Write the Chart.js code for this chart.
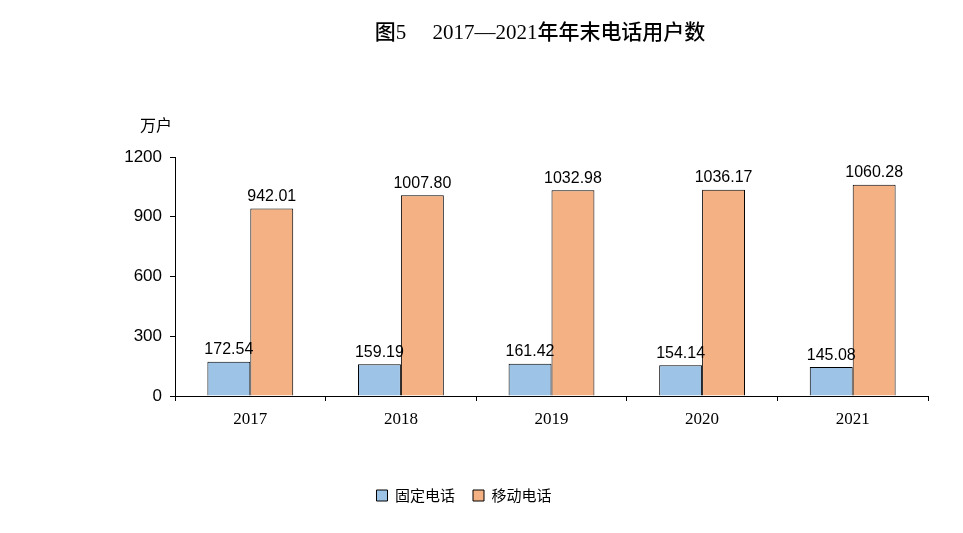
<!DOCTYPE html>
<html><head><meta charset="utf-8">
<script src="https://cdn.jsdelivr.net/npm/chart.js@4"></script>
<style>html,body{margin:0;padding:0;background:#fff}#wrap{width:963px;height:533px}</style>
</head><body><div id="wrap"><canvas id="myChart"></canvas></div>
<script>
const years = ['2017', '2018', '2019', '2020', '2021'];
const fixedPhone = [172.54, 159.19, 161.42, 154.14, 145.08];
const mobilePhone = [942.01, 1007.80, 1032.98, 1036.17, 1060.28];
const yTicks = [0, 300, 600, 900, 1200];

const sans = '"Liberation Sans", Arial, sans-serif';
const serif = '"Liberation Serif", "Times New Roman", serif';

const extras = {
    id: 'extras',
    afterDraw(chart) {
        const c = chart.ctx;
        c.save();
        c.fillStyle = '#000';
        c.textAlign = 'center';
        c.textBaseline = 'middle';
        c.font = '500 21px ' + serif.replace('serif', '"Noto Sans CJK SC", serif');
        c.fillText('图5\u3000 2017—2021年年末电话用户数', 540, 33);
        c.font = '16px "Noto Sans CJK SC", sans-serif';
        c.fillText('万户', 156, 125);
        c.font = '16px ' + sans;
        c.textBaseline = 'bottom';
        chart.data.datasets.forEach((ds, i) => {
            chart.getDatasetMeta(i).data.forEach((bar, j) => {
                c.fillText(ds.data[j].toFixed(2), bar.x, bar.y - 4);
            });
        });
        c.restore();
    }
};

new Chart(document.getElementById('myChart'), {
    type: 'bar',
    data: {
        labels: years,
        datasets: [
            { label: '固定电话', data: fixedPhone, backgroundColor: '#9dc3e6', borderColor: '#000', borderWidth: 1 },
            { label: '移动电话', data: mobilePhone, backgroundColor: '#f4b183', borderColor: '#000', borderWidth: 1 }
        ]
    },
    options: {
        responsive: true,
        maintainAspectRatio: false,
        animation: false,
        layout: { padding: { top: 157, right: 35, bottom: 20, left: 0 } },
        datasets: { bar: { categoryPercentage: 0.57, barPercentage: 1 } },
        plugins: {
            legend: {
                position: 'bottom',
                labels: { boxWidth: 11, boxHeight: 11, color: '#000', font: { family: '"Noto Sans CJK SC", sans-serif', size: 15 }, padding: 18 }
            },
            title: { display: false },
            tooltip: { enabled: false }
        },
        scales: {
            x: {
                grid: { display: true, drawOnChartArea: false, offset: true, color: '#000', tickLength: 5 },
                border: { color: '#000' },
                ticks: { color: '#000', font: { family: serif, size: 17 }, padding: 8 },
                afterFit(s) { s.height = 74; }
            },
            y: {
                min: 0, max: 1200,
                afterBuildTicks(s) { s.ticks = yTicks.map(v => ({ value: v })); },
                grid: { display: true, drawOnChartArea: false, color: '#000', tickLength: 5 },
                border: { color: '#000' },
                ticks: { color: '#000', font: { family: sans, size: 17 }, padding: 8, callback: v => String(v) },
                afterFit(s) { s.width = 175; }
            }
        }
    },
    plugins: [extras]
});
</script>
</body></html>
